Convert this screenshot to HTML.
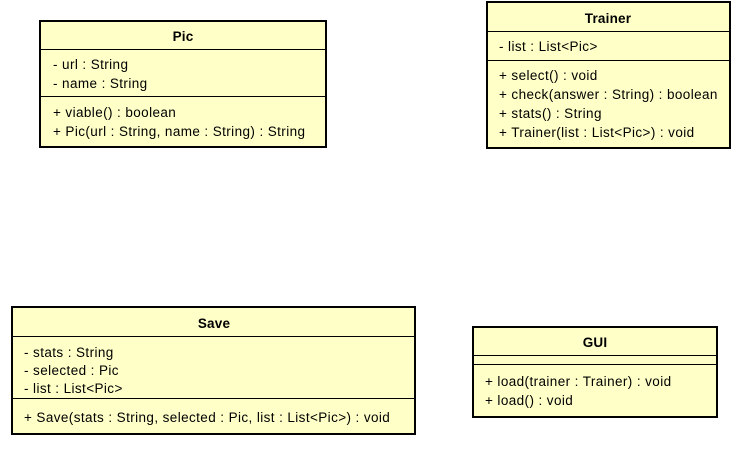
<!DOCTYPE html>
<html><head><style>
html,body{margin:0;padding:0;background:#fff;}
svg{display:block;}
text{font-family:"Liberation Sans",sans-serif;font-size:13.5px;letter-spacing:0.4px;fill:#000;}
.b{font-weight:bold;letter-spacing:0.2px;}
</style></head><body>
<svg width="748" height="462" xmlns="http://www.w3.org/2000/svg">
<g stroke="#000" stroke-width="2" fill="#ffffc8">
<rect x="40" y="21" width="286" height="126"/>
<rect x="487" y="2" width="243" height="146"/>
<rect x="12" y="307" width="403" height="127"/>
<rect x="473" y="327" width="244" height="90"/>
</g>
<g stroke="#000" stroke-width="1">
<line x1="40" y1="49.5" x2="326" y2="49.5"/>
<line x1="40" y1="96.5" x2="326" y2="96.5"/>
<line x1="487" y1="31.5" x2="730" y2="31.5"/>
<line x1="487" y1="60.5" x2="730" y2="60.5"/>
<line x1="12" y1="336.5" x2="415" y2="336.5"/>
<line x1="12" y1="398.5" x2="415" y2="398.5"/>
<line x1="473" y1="355.5" x2="717" y2="355.5"/>
<line x1="473" y1="364.5" x2="717" y2="364.5"/>
</g>
<text class="b" x="183" y="41" text-anchor="middle">Pic</text>
<text x="53" y="69">- url : String</text>
<text x="53" y="88">- name : String</text>
<text x="53" y="117">+ viable() : boolean</text>
<text x="53" y="136">+ Pic(url : String, name : String) : String</text>

<text class="b" x="608" y="23" text-anchor="middle">Trainer</text>
<text x="499" y="51">- list : List&lt;Pic&gt;</text>
<text x="499" y="80">+ select() : void</text>
<text x="499" y="99">+ check(answer : String) : boolean</text>
<text x="499" y="118">+ stats() : String</text>
<text x="499" y="137">+ Trainer(list : List&lt;Pic&gt;) : void</text>

<text class="b" x="214" y="328" text-anchor="middle">Save</text>
<text x="24" y="357">- stats : String</text>
<text x="24" y="375">- selected : Pic</text>
<text x="24" y="393">- list : List&lt;Pic&gt;</text>
<text x="24" y="422">+ Save(stats : String, selected : Pic, list : List&lt;Pic&gt;) : void</text>

<text class="b" x="595" y="347" text-anchor="middle">GUI</text>
<text x="485" y="386">+ load(trainer : Trainer) : void</text>
<text x="485" y="405">+ load() : void</text>
</svg>
</body></html>
